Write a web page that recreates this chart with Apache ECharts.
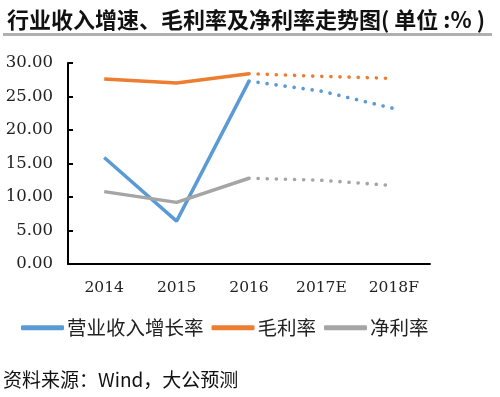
<!DOCTYPE html>
<html><head><meta charset="utf-8">
<script src="https://cdn.jsdelivr.net/npm/echarts@6/dist/echarts.min.js"></script>
<style>html,body{margin:0;padding:0;background:#fff;}#c{width:500px;height:397px;}</style>
</head><body><div id="c"></div>
<script>
const categories = ['2014','2015','2016','2017E','2018F'];
const revenueGrowth = [15.9, 6.4, 27.3, 25.8, 23.2];
const grossMargin = [27.6, 27.0, 28.4, 28.0, 27.7];
const netMargin = [10.8, 9.2, 12.8, 12.5, 11.7];
const names = ['营业收入增长率','毛利率','净利率'];
const colors = ['#5B9BD5','#ED7D31','#A5A5A5'];
const actualCount = 3; // 2014-2016 solid, then forecast dotted
const yTicks = {min: 0, max: 30, interval: 5};

function solid(arr){ return arr.map((v,i)=> i < actualCount ? v : null); }
function dotted(arr){ return arr.map((v,i)=> i >= actualCount-1 ? v : null); }

const allData = [revenueGrowth, grossMargin, netMargin];
const series = [];
allData.forEach((d,k)=>{
  series.push({type:'line', name:names[k], data:solid(d), symbol:'none', color:colors[k],
    lineStyle:{width:3.5, color:colors[k]}, z:3});
});
allData.forEach((d,k)=>{
  series.push({type:'line', name:names[k], data:dotted(d), symbol:'none', color:colors[k],
    lineStyle:{width:3.6, color:colors[k], type:[0.1, 9], cap:'round'}, z:2});
});

const serif = 'DejaVu Serif';
const cjk = '"Noto Sans CJK SC"';
const chart = echarts.init(document.getElementById('c'));
chart.setOption({
  backgroundColor:'#fff',
  animation:false,
  grid:{left:68, right:70, top:63, bottom:133},
  xAxis:{type:'category', data:categories, boundaryGap:true,
    axisLine:{lineStyle:{color:'#000', width:2}},
    axisTick:{inside:true, length:5, lineStyle:{color:'#000', width:2}},
    axisLabel:{fontFamily:serif, fontSize:15.5, color:'#222', margin:16}},
  yAxis:{type:'value', min:yTicks.min, max:yTicks.max, interval:yTicks.interval,
    splitLine:{show:false},
    axisLine:{show:true, lineStyle:{color:'#000', width:2}},
    axisTick:{show:true, inside:true, length:5, lineStyle:{color:'#000', width:2}},
    axisLabel:{fontFamily:serif, fontSize:16.5, color:'#222', margin:15,
      formatter:v=>v.toFixed(2)}},
  legend:{data:names, left:16, top:313, itemWidth:43, itemHeight:5, itemGap:8,
    icon:'roundRect',
    textStyle:{fontFamily:cjk, fontSize:19.5, color:'#222', padding:[0,0,0,-2]}},
  title:{text:'行业收入增速、毛利率及净利率走势图( 单位 :% )', left:2, top:4,
    textStyle:{fontFamily:cjk, fontSize:22, fontWeight:'bold', color:'#111'}},
  graphic:[
    {type:'rect', shape:{x:3, y:33, width:489, height:3}, style:{fill:'#b0b0b0'}},
    {type:'text', left:3, top:370, style:{text:'资料来源：Wind，大公预测', font:'19px "Noto Sans CJK SC"', fill:'#111'}}
  ],
  series:series
});
</script></body></html>
